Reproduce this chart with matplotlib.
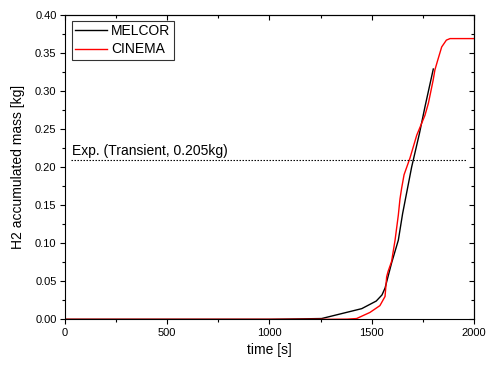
import matplotlib
matplotlib.use("Agg")
import matplotlib.pyplot as plt
from matplotlib.ticker import MultipleLocator

plt.rcParams['font.family'] = ['Liberation Sans', 'DejaVu Sans']

# MELCOR data
melcor_t = [0, 1000, 1255, 1451, 1522, 1550, 1565, 1597, 1630, 1651, 1695, 1733, 1760, 1801]
melcor_m = [0, 0.0, 0.001, 0.014, 0.024, 0.032, 0.041, 0.074, 0.104, 0.139, 0.200, 0.244, 0.279, 0.329]

# CINEMA data
cinema_t = [0, 1300, 1380, 1426, 1491, 1540, 1565, 1573, 1580, 1597, 1614, 1630, 1638,
            1646, 1658, 1687, 1720, 1760, 1777, 1800, 1809, 1822, 1842, 1865, 1883, 2000]
cinema_m = [0, 0.0, 0.0002, 0.001, 0.009, 0.018, 0.030, 0.056, 0.063, 0.076, 0.104, 0.137, 0.158,
            0.172, 0.190, 0.212, 0.242, 0.268, 0.284, 0.314, 0.328, 0.340, 0.358, 0.367, 0.369, 0.369]

exp_value = 0.209
exp_label = "Exp. (Transient, 0.205kg)"

fig = plt.figure(figsize=(4.86, 3.65), dpi=100)
ax = fig.add_axes([0.1337, 0.1252, 0.8416, 0.8337])

ax.plot(melcor_t, melcor_m, color='black', lw=1.0, label='MELCOR')
ax.plot(cinema_t, cinema_m, color='red', lw=1.0, label='CINEMA')
ax.plot([30, 1966], [exp_value, exp_value], color='black', lw=0.8,
        linestyle=(0, (1.3, 1.4)))
ax.text(35, 0.2155, exp_label, fontsize=10, va='baseline', ha='left')

ax.set_xlim(0, 2000)
ax.set_ylim(0, 0.40)
ax.xaxis.set_major_locator(MultipleLocator(500))
ax.xaxis.set_minor_locator(MultipleLocator(250))
ax.yaxis.set_major_locator(MultipleLocator(0.05))
ax.yaxis.set_minor_locator(MultipleLocator(0.025))
ax.yaxis.set_major_formatter(matplotlib.ticker.FormatStrFormatter('%.2f'))

ax.tick_params(which='major', direction='out', length=3.6, width=0.8, labelsize=8, pad=2.5)
ax.tick_params(which='minor', direction='out', length=2.0, width=0.8)
ax.tick_params(top=False, right=False, which='both')

secx = ax.secondary_xaxis('top')
secx.xaxis.set_major_locator(MultipleLocator(500))
secx.xaxis.set_minor_locator(MultipleLocator(250))
secx.tick_params(which='major', direction='in', length=3.6, width=0.8, labeltop=False)
secx.tick_params(which='minor', direction='in', length=2.0, width=0.8)
secx.spines['top'].set_linewidth(0.8)

secy = ax.secondary_yaxis('right')
secy.yaxis.set_major_locator(MultipleLocator(0.05))
secy.yaxis.set_minor_locator(MultipleLocator(0.025))
secy.tick_params(which='major', direction='in', length=3.6, width=0.8, labelright=False)
secy.tick_params(which='minor', direction='in', length=2.0, width=0.8)
secy.spines['right'].set_linewidth(0.8)

for s in ax.spines.values():
    s.set_linewidth(0.8)

ax.set_xlabel('time [s]', fontsize=10, labelpad=4)
ax.set_ylabel('H2 accumulated mass [kg]', fontsize=10, labelpad=7)

leg = ax.legend(loc='upper left', bbox_to_anchor=(0.016, 0.981), borderaxespad=0,
                fontsize=10, frameon=True, fancybox=False, edgecolor='black',
                handlelength=2.3, handletextpad=0.3, labelspacing=0.3, borderpad=0.25)
leg.get_frame().set_linewidth(0.8)

fig.savefig('out.png', dpi=100)
